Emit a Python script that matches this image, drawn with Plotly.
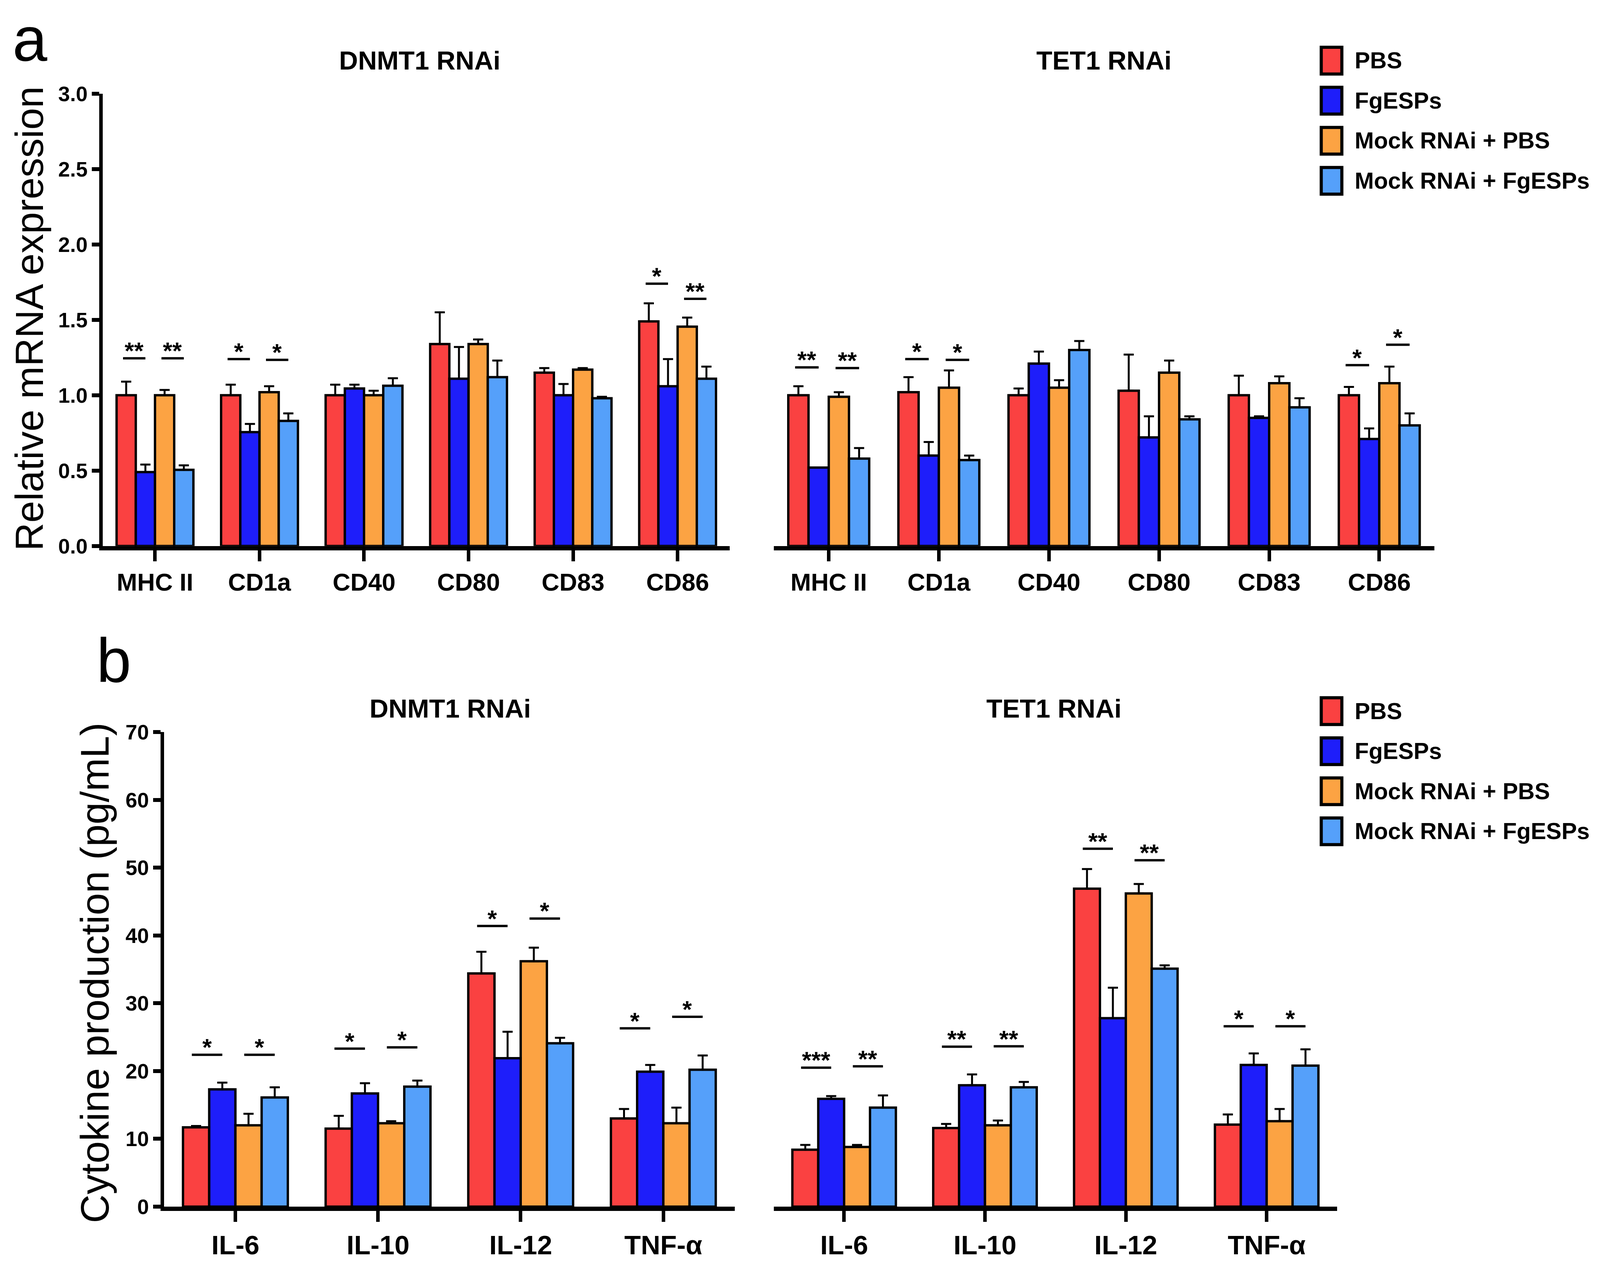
import plotly.graph_objects as go

# the page is photographed through a 4096x3264 css viewport (body margin 8px)
W, H = 4080, 3248

genes = ["MHC II", "CD1a", "CD40", "CD80", "CD83", "CD86"]
cytokines = ["IL-6", "IL-10", "IL-12", "TNF-α"]
groups = ["PBS", "FgESPs", "Mock RNAi + PBS", "Mock RNAi + FgESPs"]
colors = ["#FA4141", "#1E1EFA", "#FCA343", "#55A0FA"]

# relative mRNA expression, rows follow `groups`
dnmt1_mrna = [
    [1.00, 1.00, 1.00, 1.34, 1.15, 1.49],
    [0.49, 0.755, 1.045, 1.11, 1.00, 1.06],
    [1.00, 1.02, 1.00, 1.34, 1.17, 1.455],
    [0.505, 0.83, 1.063, 1.12, 0.98, 1.11],
]
dnmt1_mrna_err = [
    [0.09, 0.07, 0.07, 0.21, 0.03, 0.12],
    [0.05, 0.055, 0.025, 0.21, 0.075, 0.18],
    [0.035, 0.04, 0.03, 0.03, 0.01, 0.06],
    [0.03, 0.05, 0.05, 0.11, 0.01, 0.08],
]
tet1_mrna = [
    [1.00, 1.02, 1.00, 1.03, 1.00, 1.00],
    [0.52, 0.60, 1.21, 0.72, 0.85, 0.71],
    [0.99, 1.05, 1.05, 1.15, 1.08, 1.08],
    [0.58, 0.57, 1.30, 0.84, 0.92, 0.80],
]
tet1_mrna_err = [
    [0.06, 0.10, 0.045, 0.24, 0.13, 0.055],
    [0.0, 0.09, 0.08, 0.14, 0.01, 0.07],
    [0.03, 0.115, 0.05, 0.08, 0.045, 0.11],
    [0.07, 0.03, 0.06, 0.02, 0.06, 0.08],
]

# cytokine production (pg/mL)
dnmt1_cyto = [
    [11.7, 11.5, 34.4, 13.0],
    [17.3, 16.7, 21.9, 19.9],
    [12.0, 12.3, 36.2, 12.3],
    [16.1, 17.7, 24.1, 20.2],
]
dnmt1_cyto_err = [
    [0.2, 1.9, 3.2, 1.4],
    [1.0, 1.5, 3.9, 1.0],
    [1.7, 0.3, 2.0, 2.3],
    [1.5, 0.9, 0.8, 2.1],
]
tet1_cyto = [
    [8.4, 11.6, 46.9, 12.1],
    [15.9, 17.9, 27.8, 20.9],
    [8.8, 12.0, 46.2, 12.6],
    [14.6, 17.6, 35.1, 20.8],
]
tet1_cyto_err = [
    [0.7, 0.6, 2.9, 1.5],
    [0.4, 1.6, 4.5, 1.7],
    [0.3, 0.7, 1.4, 1.8],
    [1.8, 0.8, 0.5, 2.4],
]

# significance marks: (category index, pair 0=PBS/FgESPs 1=Mock pair, bar height, label)
dnmt1_mrna_sig = [(0, 0, 1.245, "**"), (0, 1, 1.245, "**"), (1, 0, 1.24, "*"),
                  (1, 1, 1.235, "*"), (5, 0, 1.74, "*"), (5, 1, 1.64, "**")]
tet1_mrna_sig = [(0, 0, 1.185, "**"), (0, 1, 1.18, "**"), (1, 0, 1.24, "*"),
                 (1, 1, 1.235, "*"), (5, 0, 1.20, "*"), (5, 1, 1.335, "*")]
dnmt1_cyto_sig = [(0, 0, 22.4, "*"), (0, 1, 22.4, "*"), (1, 0, 23.3, "*"), (1, 1, 23.5, "*"),
                  (2, 0, 41.4, "*"), (2, 1, 42.5, "*"), (3, 0, 26.3, "*"), (3, 1, 28.0, "*")]
tet1_cyto_sig = [(0, 0, 20.5, "***"), (0, 1, 20.7, "**"), (1, 0, 23.6, "**"), (1, 1, 23.65, "**"),
                 (2, 0, 52.8, "**"), (2, 1, 51.1, "**"), (3, 0, 26.6, "*"), (3, 1, 26.6, "*")]

FONT = "Liberation Sans, Arial, sans-serif"
BARGAP = 0.265

panels = [
    dict(cats=genes, mean=dnmt1_mrna, err=dnmt1_mrna_err, sig=dnmt1_mrna_sig,
         xdom=[0.0625, 0.456], ydom=[0.5735, 0.9366], yr=[0, 3], dt=0.5, fmt=".1f", left=True),
    dict(cats=genes, mean=tet1_mrna, err=tet1_mrna_err, sig=tet1_mrna_sig,
         xdom=[0.4835, 0.898], ydom=[0.5735, 0.9366], yr=[0, 3], dt=0.5, fmt=".1f", left=False),
    dict(cats=cytokines, mean=dnmt1_cyto, err=dnmt1_cyto_err, sig=dnmt1_cyto_sig,
         xdom=[0.101, 0.459], ydom=[0.043, 0.424], yr=[0, 70], dt=10, fmt="d", left=True),
    dict(cats=cytokines, mean=tet1_cyto, err=tet1_cyto_err, sig=tet1_cyto_sig,
         xdom=[0.4835, 0.837], ydom=[0.043, 0.424], yr=[0, 70], dt=10, fmt="d", left=False),
]

fig = go.Figure()
shapes = []
annotations = []
bw = (1 - BARGAP) / 4
offs = [(-1.5 + i) * bw for i in range(4)]

for k, p in enumerate(panels, start=1):
    xa = "x" if k == 1 else f"x{k}"
    ya = "y" if k == 1 else f"y{k}"
    n = len(p["cats"])
    for g in range(4):
        fig.add_trace(go.Bar(
            x=list(range(n)), y=p["mean"][g], xaxis=xa, yaxis=ya,
            name=groups[g], offsetgroup=str(g), showlegend=False,
            marker=dict(color=colors[g], line=dict(color="black", width=6)),
            error_y=dict(type="data", array=p["err"][g], arrayminus=[0] * n,
                         symmetric=False, color="black", thickness=5, width=13),
        ))
    fig.layout[xa.replace("x", "xaxis")] = dict(
        domain=p["xdom"], anchor=ya, range=[-0.5, n - 0.5],
        tickvals=list(range(n)), ticktext=p["cats"], ticks="outside",
        ticklen=28, tickwidth=9, tickcolor="black", showline=True,
        linewidth=11, linecolor="black", showgrid=False, zeroline=False,
        tickfont=dict(family=FONT, size=63 if k <= 2 else 69, color="black", weight="bold"),
    )
    fig.layout[ya.replace("y", "yaxis")] = dict(
        domain=p["ydom"], anchor=xa, range=p["yr"], tick0=0, dtick=p["dt"],
        tickformat=p["fmt"], ticks="outside" if p["left"] else "",
        ticklen=19, tickwidth=10, tickcolor="black",
        showline=p["left"], linewidth=9, linecolor="black",
        showticklabels=p["left"], showgrid=False, zeroline=False,
        tickfont=dict(family=FONT, size=54, color="black", weight="bold"),
    )
    for ci, pair, yv, lab in p["sig"]:
        c1 = ci + offs[2 * pair]
        c2 = ci + offs[2 * pair + 1]
        shapes.append(dict(type="line", xref=xa, yref=ya, x0=c1 - 0.03, x1=c2,
                           y0=yv, y1=yv, line=dict(color="black", width=6)))
        annotations.append(dict(xref=xa, yref=ya, x=(c1 + c2) / 2 - 0.015, y=yv,
                                text=lab, showarrow=False, yanchor="bottom", yshift=-17,
                                font=dict(family=FONT, size=62, color="black", weight="bold")))

# panel titles
titles = ["DNMT1 RNAi", "TET1 RNAi", "DNMT1 RNAi", "TET1 RNAi"]
title_pos = [(0.2614, 0.9635), (0.6907, 0.9635), (0.2806, 0.443), (0.6593, 0.443)]
for t, (x, y) in zip(titles, title_pos):
    annotations.append(dict(xref="paper", yref="paper", x=x, y=y, text=t, showarrow=False,
                            xanchor="center", yanchor="middle",
                            font=dict(family=FONT, size=67, color="black", weight="bold")))

# y-axis titles
annotations.append(dict(xref="paper", yref="paper", x=0.0165, y=0.756, text="Relative mRNA expression",
                        textangle=-90, showarrow=False, xanchor="center", yanchor="middle",
                        font=dict(family=FONT, size=100, color="black")))
annotations.append(dict(xref="paper", yref="paper", x=0.0575, y=0.2307, text="Cytokine production (pg/mL)",
                        textangle=-90, showarrow=False, xanchor="center", yanchor="middle",
                        font=dict(family=FONT, size=102, color="black")))

# panel letters
annotations.append(dict(xref="paper", yref="paper", x=0.0055, y=0.952, text="a", showarrow=False,
                        xanchor="left", yanchor="bottom", font=dict(family=FONT, size=160, color="black")))
annotations.append(dict(xref="paper", yref="paper", x=0.058, y=0.453, text="b", showarrow=False,
                        xanchor="left", yanchor="bottom", font=dict(family=FONT, size=160, color="black")))

# legends (one per row), positions in reference pixels
for top in [120, 1825]:
    for i, (g, c) in enumerate(zip(groups, colors)):
        cy = top + i * 105
        shapes.append(dict(type="rect", xref="paper", yref="paper",
                           x0=4476 / 5412, x1=4546 / 5412,
                           y0=1 - (cy + 35) / 3264, y1=1 - (cy - 35) / 3264,
                           fillcolor=c, line=dict(color="black", width=8)))
        annotations.append(dict(xref="paper", yref="paper", x=4587 / 5412, y=1 - cy / 3264, text=g,
                                showarrow=False, xanchor="left", yanchor="middle",
                                font=dict(family=FONT, size=59, color="black", weight="bold")))

fig.update_layout(
    width=W, height=H, margin=dict(l=0, r=0, t=0, b=0),
    paper_bgcolor="white", plot_bgcolor="white",
    barmode="group", bargap=BARGAP, bargroupgap=0,
    shapes=shapes, annotations=annotations, showlegend=False,
)

fig.write_html("out.html")
